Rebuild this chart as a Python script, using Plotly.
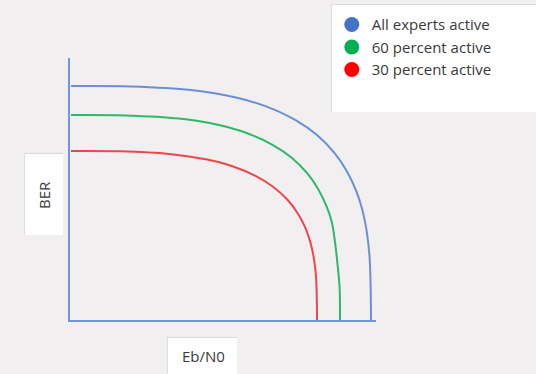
import plotly.graph_objects as go

# Data (arbitrary units: Eb/N0 along x, BER along y)
series_names = ["All experts active", "60 percent active", "30 percent active"]
series_colors = ["#4472c4", "#00b050", "#ff0000"]
curve_colors = ["#6a8fd8", "#2fb866", "#f2454b"]

all_x = [0, 60, 120, 165, 195, 225, 246, 264, 276, 285, 291, 295.5, 298.5, 299.6, 300]
all_y = [234, 233.6, 230, 222.5, 213.6, 199.6, 184.9, 166.4, 148.6, 129.6, 111.4, 90, 64, 35, 0]

p60_x = [0, 54, 108, 148, 175, 202, 221, 237, 247.5, 255.6, 260.9, 264, 266.5, 268.6, 269]
p60_y = [205, 204.6, 201.5, 195, 187.2, 174.9, 162, 145.8, 130.2, 113.6, 97.6, 78, 56, 32, 0]

p30_x = [0, 49, 98, 135, 160, 184.5, 201.7, 216.5, 226.3, 233.7, 238.6, 242.3, 244.8, 245.7, 246]
p30_y = [169, 168.7, 166.1, 160.7, 154.3, 144.2, 133.5, 120.2, 107.3, 93.6, 80.4, 65, 46, 26, 0]

x_title = "Eb/N0"
y_title = "BER"

xs = [all_x, p60_x, p30_x]
ys = [all_y, p60_y, p30_y]

BG = "#f1eff0"
TXT = "#3a3a3a"
FONT = "Open Sans"

fig = go.Figure()
for name, x, y, c in zip(series_names, xs, ys, curve_colors):
    fig.add_trace(go.Scatter(x=x, y=y, mode="lines", name=name,
                             line=dict(color=c, width=2, shape="spline", smoothing=1.0),
                             showlegend=False, hoverinfo="skip"))
for name, c in zip(series_names, series_colors):
    fig.add_trace(go.Scatter(x=[None], y=[None], mode="markers", name=name,
                             marker=dict(color=c, size=15, symbol="circle"),
                             showlegend=True))

# boxes (white panels behind legend and axis titles)
def box(x0, x1, y0, y1):
    fig.add_shape(type="rect", xref="paper", yref="paper", x0=x0 - 0.003, x1=x1,
                  y0=y0, y1=y1 + 0.004, fillcolor="#dddbdb", line=dict(width=0),
                  layer="below")
    fig.add_shape(type="rect", xref="paper", yref="paper", x0=x0, x1=x1, y0=y0, y1=y1,
                  fillcolor="white", line=dict(width=0), layer="below")

box(0.856, 1.55, 0.794, 1.202)      # legend panel
box(-0.147, -0.0229, 0.324, 0.634)  # BER panel
box(0.320, 0.546, -0.30, -0.0687)   # Eb/N0 panel

fig.add_annotation(text=y_title, xref="paper", yref="paper", x=-0.085, y=0.477,
                   xanchor="center", yanchor="middle",
                   textangle=-90, showarrow=False,
                   font=dict(family=FONT, size=15, color=TXT))
fig.add_annotation(text=x_title, xref="paper", yref="paper", x=0.435, y=-0.137,
                   xanchor="center", yanchor="middle",
                   showarrow=False, font=dict(family=FONT, size=15, color=TXT))

axis_common = dict(showgrid=False, zeroline=False, showticklabels=False, ticks="",
                   showline=True, linecolor="#7095d8", linewidth=2)

fig.update_layout(
    width=536, height=374,
    margin=dict(l=70, r=160, t=58, b=54, autoexpand=False),
    paper_bgcolor=BG, plot_bgcolor=BG,
    xaxis=dict(range=[-1, 305], **axis_common),
    yaxis=dict(range=[0, 262], **axis_common),
    legend=dict(xref="container", yref="container", x=0.619, y=0.978,
                xanchor="left", yanchor="top", bgcolor="rgba(0,0,0,0)",
                font=dict(family=FONT, size=15, color=TXT),
                itemsizing="trace", tracegroupgap=0),
    showlegend=True,
)

fig.write_html("out.html", config={"displayModeBar": False},
               post_script="document.body.style.margin='0';document.body.style.overflow='hidden';")
